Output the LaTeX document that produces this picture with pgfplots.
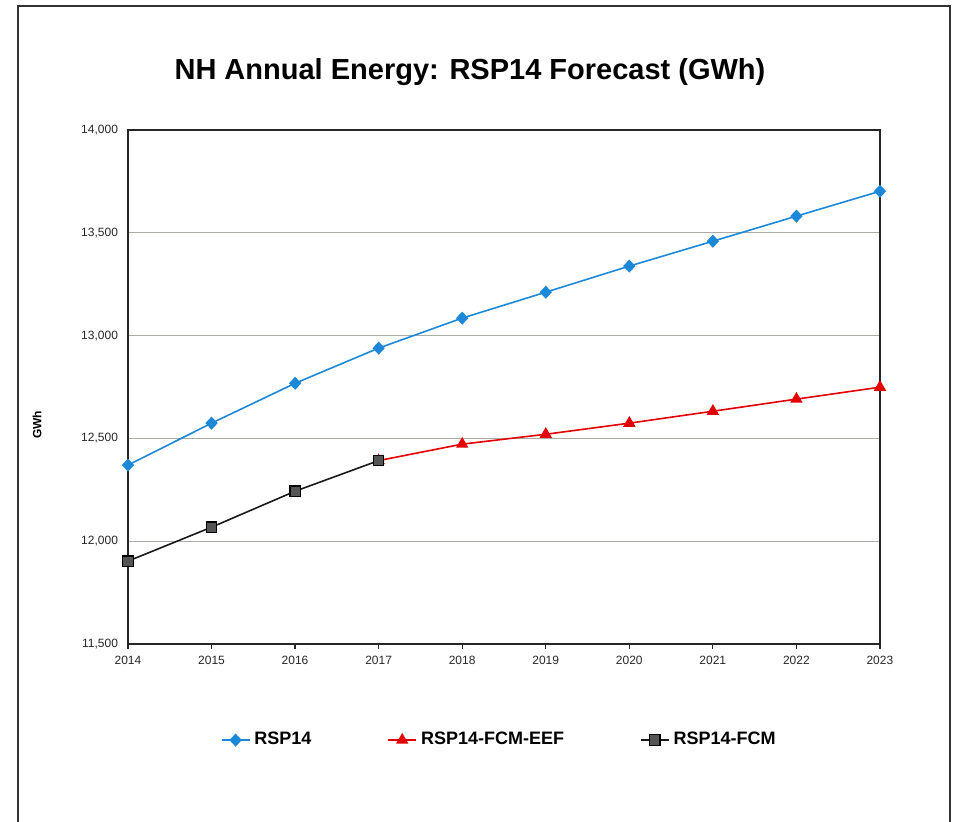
\documentclass[border=0pt]{standalone}
\usepackage{fontspec}
\setmainfont{Liberation Sans}
\usepackage{pgfplots}
\pgfplotsset{compat=1.18}
\definecolor{cblue}{RGB}{30,136,216}
\definecolor{cred}{RGB}{228,0,0}
\definecolor{cgrid}{RGB}{172,172,166}
\definecolor{cgraymk}{RGB}{85,85,85}
\begin{document}
\begin{tikzpicture}
\useasboundingbox (0,0) rectangle (477.5pt,411pt);
\draw[line width=0.8pt, black!80] (9pt,-2pt) -- (9pt,408pt) -- (475pt,408pt) -- (475pt,-2pt);
\node[font=\fontsize{14.5}{17}\selectfont\bfseries] at (235pt,375pt) {NH Annual Energy: RSP14 Forecast (GWh)};
\node[font=\fontsize{6}{7}\selectfont\bfseries, rotate=90] at (18.5pt,198.5pt) {GWh};
\begin{axis}[
  at={(64pt,89pt)}, anchor=south west,
  scale only axis, width=376pt, height=257pt,
  xmin=2014, xmax=2023, ymin=11500, ymax=14000,
  xtick={2014,...,2023},
  ytick={11500,12000,12500,13000,13500,14000},
  scaled y ticks=false,
  ymajorgrids, grid style={cgrid, line width=0.6pt},
  axis line style={black!85, line width=0.7pt},
  tick align=outside, xtick pos=lower, ytick pos=left,
  major tick length=2.5pt,
  ytick style={draw=none},
  xtick style={black!85, line width=0.6pt},
  ticklabel style={font=\fontsize{6}{7}\selectfont, text=black!85},
  /pgf/number format/assume math mode=true,
  yticklabel style={/pgf/number format/fixed, /pgf/number format/1000 sep={,}, xshift=1pt},
  xticklabel style={/pgf/number format/1000 sep={}},
  legend columns=3,
  legend style={at={(0.495,-0.187)}, anchor=center, draw=none, fill=none,
    font=\fontsize{9}{11}\selectfont\bfseries,
    /tikz/every even column/.append style={column sep=36pt}},
  legend image code/.code={\draw[#1] (0pt,0pt) -- (7pt,0pt) plot coordinates {(7pt,0pt)} -- (14pt,0pt);},
]
\addplot[cblue, line width=0.8pt, mark=diamond*, mark size=2.7pt, mark options={fill=cblue, draw=cblue, xscale=1.25}] coordinates {
(2014,12370) (2015,12574) (2016,12768) (2017,12939) (2018,13085) (2019,13211) (2020,13338) (2021,13459) (2022,13581) (2023,13702)};
\addlegendentry{RSP14}
\addplot[cred, line width=0.8pt, mark=triangle*, mark size=2.8pt, mark options={fill=cred, draw=cred}] coordinates {
(2017,12392) (2018,12472) (2019,12520) (2020,12574) (2021,12632) (2022,12691) (2023,12749)};
\addlegendentry{RSP14-FCM-EEF}
\addplot[black!90, line width=0.8pt, mark=square*, mark size=2.6pt, mark options={fill=cgraymk, draw=black, line width=0.6pt}] coordinates {
(2014,11903) (2015,12068) (2016,12243) (2017,12392)};
\addlegendentry{RSP14-FCM}
\end{axis}
\end{tikzpicture}
\end{document}
